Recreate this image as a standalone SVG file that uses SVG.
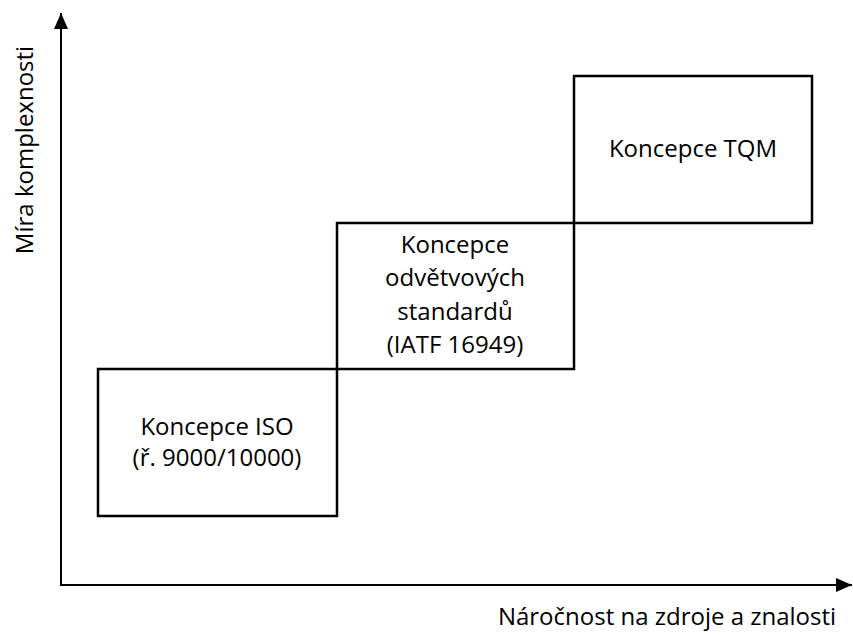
<svg xmlns="http://www.w3.org/2000/svg" width="853" height="636" viewBox="0 0 853 636">
<style>
.box{fill:none;stroke:#000;stroke-width:2.5}
.ax{stroke:#000;stroke-width:2;fill:none}
text{font-family:"Open Sans","Liberation Sans",sans-serif;font-size:24px;fill:#000;text-anchor:middle}
</style>
<defs>
<marker id="ah" viewBox="0 0 10 10" refX="10" refY="5" markerWidth="8" markerHeight="7" orient="auto" markerUnits="strokeWidth" preserveAspectRatio="none">
<path d="M0,0 L10,5 L0,10 z" fill="#000"/>
</marker>
</defs>
<rect width="853" height="636" fill="#fff"/>
<g id="connectors">
<line class="ax" x1="61" y1="585" x2="61" y2="13" marker-end="url(#ah)"/>
<line class="ax" x1="60" y1="585" x2="852" y2="585" marker-end="url(#ah)"/>
</g>
<g id="node-iso">
<rect class="box" x="98" y="369" width="239" height="147"/>
<text x="217" y="435">Koncepce ISO</text>
<text x="217" y="466">(ř. 9000/10000)</text>
</g>
<g id="node-odvetvove">
<rect class="box" x="337" y="223" width="237" height="146"/>
<text x="455" y="253">Koncepce</text>
<text x="455" y="286">odvětvových</text>
<text x="455" y="320">standardů</text>
<text x="455" y="353">(IATF 16949)</text>
</g>
<g id="node-tqm">
<rect class="box" x="574" y="76" width="238" height="147"/>
<text x="693" y="157">Koncepce TQM</text>
</g>
<g id="labels">
<text transform="translate(33,150) rotate(-90)">Míra komplexnosti</text>
<text x="667" y="625">Náročnost na zdroje a znalosti</text>
</g>
</svg>
